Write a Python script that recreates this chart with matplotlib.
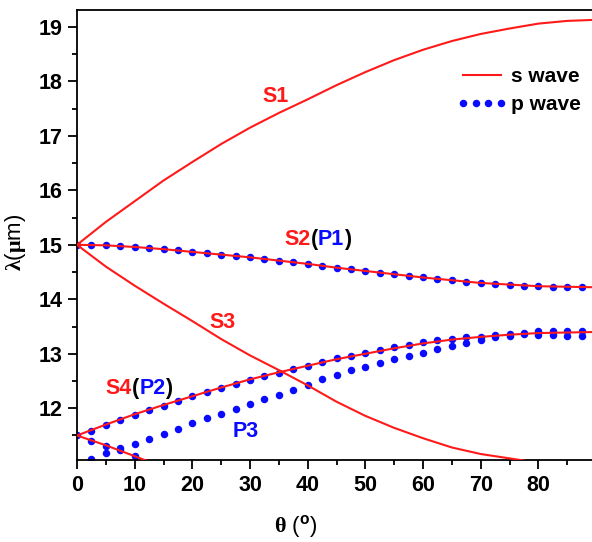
import numpy as np
import matplotlib.pyplot as plt
import matplotlib as mpl
from matplotlib.ticker import MultipleLocator

mpl.rcParams.update({
    'font.family': ['Liberation Sans', 'DejaVu Sans'],
    'font.weight': 'bold',
    'font.size': 15.5,
    'mathtext.fontset': 'custom',
    'mathtext.rm': 'Liberation Serif',
    'mathtext.bf': 'Liberation Sans:bold',
    'axes.linewidth': 1.3,
})

# s-wave lines (theta in degrees, lambda in um)
s_theta = [0, 5, 10, 15, 20, 25, 30, 35, 40, 45, 50, 55, 60, 65, 70, 75, 80, 85, 90]
s1 = [15.0, 15.42, 15.8, 16.18, 16.52, 16.85, 17.15, 17.42, 17.67, 17.93, 18.17,
      18.39, 18.58, 18.74, 18.87, 18.97, 19.06, 19.11, 19.13]
s2 = [15.0, 14.99, 14.96, 14.92, 14.87, 14.82, 14.77, 14.71, 14.65, 14.58, 14.52,
      14.46, 14.40, 14.35, 14.30, 14.27, 14.24, 14.23, 14.22]
s4 = [11.5, 11.7, 11.89, 12.06, 12.22, 12.38, 12.53, 12.66, 12.78, 12.9, 13.0,
      13.1, 13.19, 13.26, 13.31, 13.35, 13.38, 13.39, 13.4]
s3_theta = [0, 5, 10, 15, 20, 25, 30, 35, 40, 45, 50, 55, 60, 65, 70, 75, 77.5]
s3 = [15.0, 14.6, 14.25, 13.92, 13.6, 13.27, 12.97, 12.7, 12.42, 12.12, 11.86,
      11.64, 11.45, 11.28, 11.16, 11.08, 11.04]
s5_theta = [0, 5, 10, 12]
s5 = [11.5, 11.32, 11.12, 11.04]

# p-wave points, every 2.5 degrees
p_theta = list(np.arange(0, 88, 2.5))
p1 = [15.0, 15.0, 14.99, 14.98, 14.96, 14.94, 14.92, 14.9, 14.87, 14.85, 14.82,
      14.8, 14.77, 14.74, 14.71, 14.68, 14.65, 14.62, 14.58, 14.55, 14.52, 14.49,
      14.46, 14.43, 14.40, 14.37, 14.35, 14.32, 14.30, 14.28, 14.27, 14.25, 14.24,
      14.23, 14.23, 14.23]
p2 = [11.5, 11.59, 11.70, 11.78, 11.87, 11.96, 12.04, 12.13, 12.22, 12.30, 12.38,
      12.44, 12.52, 12.59, 12.65, 12.72, 12.77, 12.85, 12.92, 12.96, 13.02, 13.07,
      13.12, 13.16, 13.21, 13.25, 13.28, 13.30, 13.31, 13.34, 13.36, 13.39, 13.41,
      13.41, 13.41, 13.41]
p3_theta = p_theta[1:]
p3 = [11.07, 11.17, 11.27, 11.35, 11.43, 11.52, 11.61, 11.72, 11.82, 11.9, 11.99,
      12.07, 12.17, 12.25, 12.34, 12.42, 12.53, 12.61, 12.70, 12.76, 12.83, 12.9,
      12.96, 13.01, 13.09, 13.14, 13.2, 13.25, 13.31, 13.33, 13.36, 13.35, 13.35,
      13.33, 13.33]
p4_theta = [2.5, 5, 7.5, 10]
p4 = [11.4, 11.31, 11.23, 11.12]

RED = '#ff1a1a'
BLUE = '#0a0aff'
FS = 15.5

fig = plt.figure(figsize=(5.92, 5.42), dpi=100)
ax = fig.add_axes([77 / 592, 82 / 542, 519 / 592, 450 / 542])

lw = 1.5
ax.plot(s_theta, s1, color=RED, lw=lw, label='s wave', zorder=3)
ax.plot(s_theta, s2, color=RED, lw=lw, zorder=3)
ax.plot(s3_theta, s3, color=RED, lw=lw, zorder=3)
ax.plot(s_theta, s4, color=RED, lw=lw, zorder=3)
ax.plot(s5_theta, s5, color=RED, lw=lw, zorder=3)

ms = 5.4
ax.plot(p_theta, p1, 'o', color=BLUE, ms=ms, mec='none', label='p wave', zorder=2)
ax.plot(p_theta, p2, 'o', color=BLUE, ms=ms, mec='none', zorder=2)
ax.plot(p3_theta, p3, 'o', color=BLUE, ms=ms, mec='none', zorder=2)
ax.plot(p4_theta, p4, 'o', color=BLUE, ms=ms, mec='none', zorder=2)

ax.set_xlim(0, 90)
ax.set_ylim(11.05, 19.31)
ax.set_xticks(np.arange(0, 81, 10))
ax.xaxis.set_minor_locator(MultipleLocator(5))
ax.set_yticks(np.arange(12, 20, 1))
ax.yaxis.set_minor_locator(MultipleLocator(0.5))
ax.tick_params(which='both', direction='out', width=1.3, top=False, right=False,
               labelsize=FS)
ax.tick_params(which='major', length=6.5)
ax.tick_params(axis='y', which='major', pad=4)
ax.tick_params(axis='x', which='major', pad=4.5)
ax.tick_params(which='minor', length=3.3)
for lab in ax.get_xticklabels() + ax.get_yticklabels():
    lab.set_fontweight('bold')

ax.set_xlabel(r'$\mathrm{θ}$ ($^{\mathbf{o}}$)', fontsize=16)
ax.xaxis.set_label_coords(0.422, -0.117)
ax.set_ylabel(r'$\mathrm{λ}$($\mathrm{μ}$m)', fontsize=16)
ax.yaxis.set_label_coords(-0.094, 0.484)

leg = ax.legend(loc='upper left', bbox_to_anchor=(457 / 592, 1 - 67 / 542),
                bbox_transform=fig.transFigure, frameon=False, numpoints=4,
                handlelength=2.4, handletextpad=0.2, labelspacing=0.45,
                borderpad=0, borderaxespad=0, prop={'weight': 'bold', 'size': 15})


def label_parts(x, y, parts):
    # draw pieces of coloured text one after another
    t = ax.text(x, y, parts[0][0], color=parts[0][1], fontsize=FS,
                fontweight='bold', ha='left', va='center')
    prev = t
    for txt, col in parts[1:]:
        prev = ax.annotate(txt, xy=(1, 0), xycoords=prev, color=col,
                           fontsize=FS, fontweight='bold', ha='left', va='bottom')
    return t


label_parts(32.1, 17.73, [('S1', RED)])
label_parts(36.0, 15.09, [('S2', RED), ('(', 'black'), ('P1', BLUE), (')', 'black')])
label_parts(23.0, 13.58, [('S3', RED)])
label_parts(5.0, 12.36, [('S4', RED), ('(', 'black'), ('P2', BLUE), (')', 'black')])
label_parts(27.0, 11.57, [('P3', BLUE)])

fig.savefig('out.png', dpi=100)
